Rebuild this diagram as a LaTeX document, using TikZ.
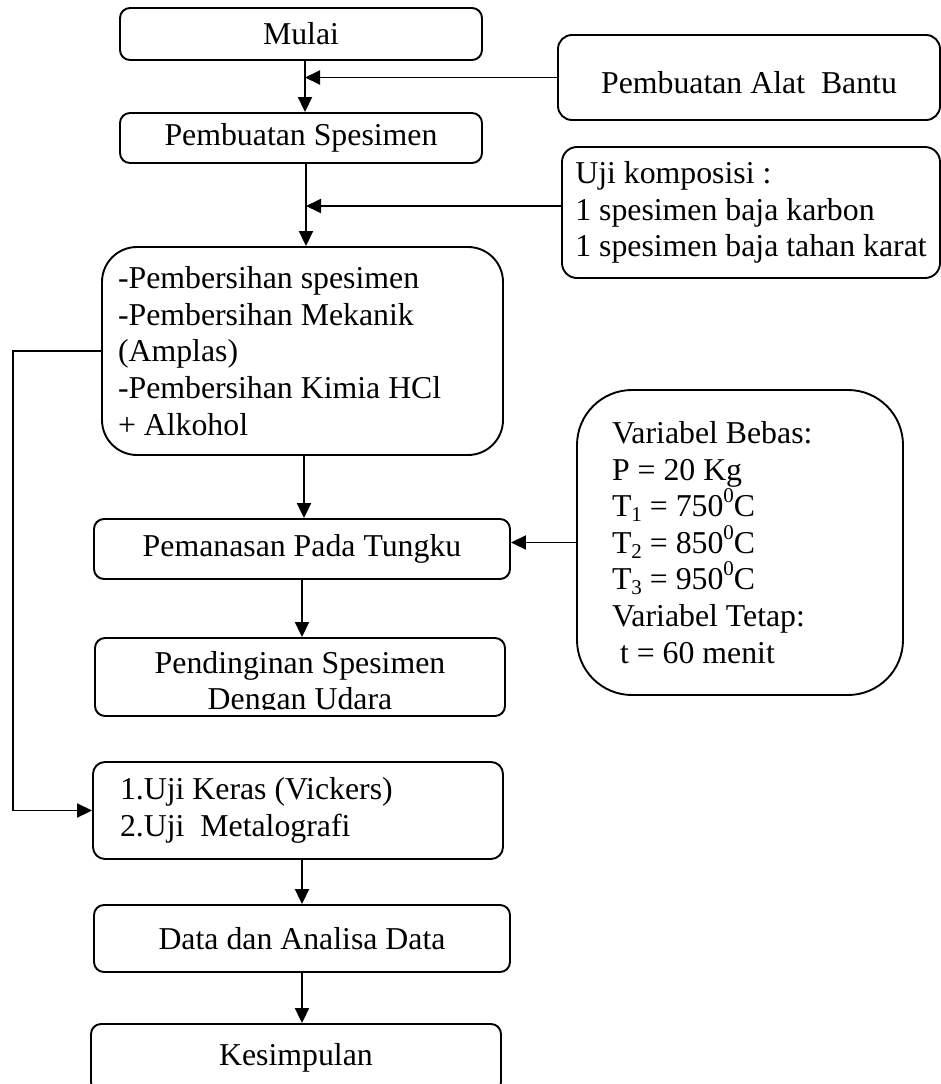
\documentclass[tikz,border=0pt]{standalone}
\usepackage{fontspec}
\setmainfont{Liberation Serif}
\usetikzlibrary{arrows.meta}
\newcommand\mysub[1]{\raisebox{-5pt}{\fontsize{21}{21}\selectfont #1}}
\newcommand\mysup[1]{\raisebox{14pt}{\fontsize{21}{21}\selectfont #1}}
\begin{document}
\begin{tikzpicture}[x=1pt,y=-1pt,
  every node/.style={font=\fontsize{31.8}{36.6}\selectfont},
  box/.style={draw, line width=1.9pt, rounded corners=10pt, inner sep=0pt, align=center},
  lbox/.style={draw, line width=1.9pt, inner ysep=0pt, align=flush left},
  arr/.style={line width=1.9pt, -{Triangle[length=15pt,width=14pt]}}]
\useasboundingbox (0,0) rectangle (941,1084);
\clip (0,0) rectangle (941,1084);
% main column
\node[box, minimum width=362pt, minimum height=52pt] (start) at (301,34) {Mulai};
\node[box, minimum width=362pt, minimum height=50pt] (spec) at (301,138) {Pembuatan Spesimen};
\node[box, minimum width=382pt, minimum height=85pt, rounded corners=14pt] (tool) at (749,77.5)
  {\raisebox{-5pt}[\height][\depth]{Pembuatan Alat\ \ Bantu}};
\node[draw, line width=1.9pt, rounded corners=15pt, inner sep=0pt, align=left, minimum width=378pt, minimum height=131pt] (comp) at (751,212.5)
  {Uji komposisi :\\1 spesimen baja karbon\\1 spesimen baja tahan karat};
\node[lbox, rounded corners=35pt, minimum height=208pt, inner xsep=16pt, text width=369pt] (clean) at (302.5,351)
  {-Pembersihan spesimen\\-Pembersihan Mekanik\\(Amplas)\\-Pembersihan Kimia HCl\\+ Alkohol};
\node[box, minimum width=416pt, minimum height=60pt] (heat) at (302,549) {Pemanasan Pada Tungku};
\node[lbox, rounded corners=55pt, minimum height=305pt, inner xsep=35pt, text width=256pt] (var) at (740,542.5)
  {Variabel Bebas:\\P = 20 Kg\\T\mysub{1} = 750\mysup{0}C\\T\mysub{2} = 850\mysup{0}C\\T\mysub{3} = 950\mysup{0}C\\Variabel Tetap:\\\hspace*{8pt}t = 60 menit};
\node[box, minimum width=410pt, minimum height=78pt] (cool) at (300,677) {};
\begin{scope}
  \clip (95,638) rectangle (505,709);
  \node[align=center, inner sep=0pt] (coolt) at (300,684) {Pendinginan Spesimen\\Dengan Udara};
\end{scope}
\node[lbox, rounded corners=12pt, minimum height=97pt, inner xsep=27pt, text width=356pt] (test) at (298,810.5)
  {1.Uji Keras (Vickers)\\2.Uji\ \ Metalografi};
\node[box, minimum width=416pt, minimum height=67pt] (data) at (302,938.5) {Data dan Analisa Data};
\node[box, minimum width=410pt, minimum height=68pt] (concl) at (296,1058) {Kesimpulan};
% trunk coordinates
\coordinate (tA) at (305,0);
\coordinate (tB) at (306,206);
\coordinate (tC) at (304,0);
\coordinate (tD) at (302,0);
\coordinate (lp) at (13,0);
% connectors
\draw[arr] (start.south -| tA) -- (spec.north -| tA);
\draw[arr] (tool.west) -- (tool.west -| tA);
\draw[arr] (spec.south -| tB) -- (clean.north -| tB);
\draw[arr] (comp.west |- tB) -- (tB);
\draw[arr] (clean.south -| tC) -- (heat.north -| tC);
\draw[arr] (var.west) -- (var.west -| heat.east);
\draw[arr] (heat.south -| tD) -- (cool.north -| tD);
\draw[arr] (clean.west) -- (clean.west -| lp) |- (test.west);
\draw[arr] (test.south -| tD) -- (data.north -| tD);
\draw[arr] (data.south -| tD) -- (concl.north -| tD);
\end{tikzpicture}
\end{document}
